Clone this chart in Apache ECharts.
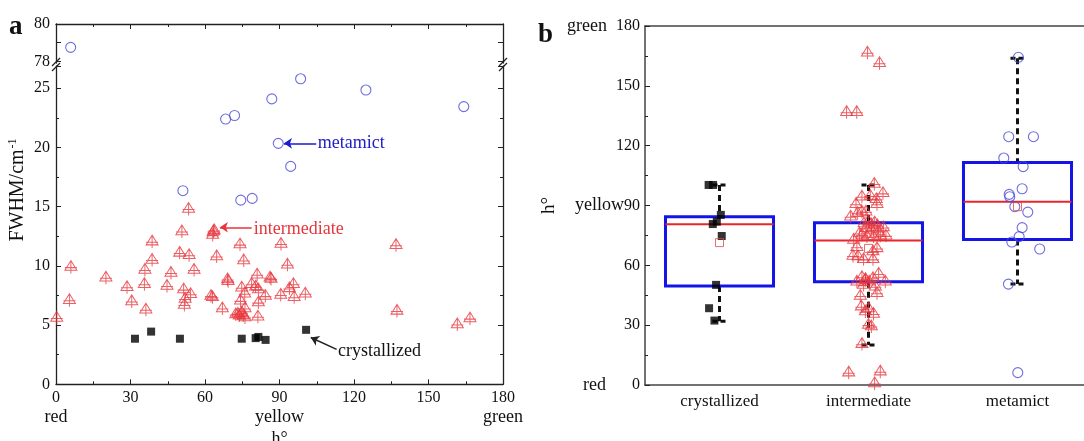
<!DOCTYPE html>
<html>
<head>
<meta charset="utf-8">
<script src="https://cdn.jsdelivr.net/npm/echarts@6/dist/echarts.min.js"></script>
<style>
  html, body { margin: 0; padding: 0; background: #fff; }
  #chart { width: 1084px; height: 441px; }
</style>
</head>
<body>
<div id="chart"></div>
<script>
// ---- panel a: FWHM vs hue angle ----
const crystHue = [31.8, 38.3, 49.9, 74.8, 80.4, 81.5, 84.4, 100.7]
const crystFwhm = [3.85, 4.45, 3.85, 3.85, 3.9, 4.0, 3.75, 4.6]

const interHue = [0.3, 6.0, 5.4, 20.1, 28.6, 30.5, 35.8, 35.6, 36.2, 38.7, 38.7, 44.7, 46.3, 49.8, 50.7,
  53.4, 53.6, 55.6, 51.4, 52.0, 51.7, 54.2, 62.4, 63.0, 63.1, 63.4, 63.7, 64.7, 67.0, 69.1, 69.3,
  74.1, 75.6, 74.8, 74.3, 76.0, 76.1, 72.4, 73.2, 73.8, 74.8, 75.4, 76.1, 78.8, 80.4, 81.0, 81.5,
  81.5, 81.3, 84.3, 86.2, 86.6, 90.6, 90.5, 93.2, 94.0, 95.6, 95.9, 100.4, 136.9, 137.3, 161.6, 166.7]
const interFwhm = [5.6, 9.9, 7.1, 9.0, 8.2, 7.0, 9.65, 8.45, 6.3, 12.05, 10.5, 8.3, 9.4, 11.1, 12.9,
  14.8, 10.9, 9.65, 8.0, 7.2, 6.7, 7.6, 7.45, 7.35, 12.6, 12.9, 13.0, 10.8, 6.4, 8.85, 8.7,
  11.8, 10.45, 8.15, 7.05, 7.65, 6.4, 5.9, 5.95, 5.8, 6.05, 5.8, 5.65, 8.45, 8.25, 9.25, 8.0,
  6.9, 5.7, 7.45, 9.0, 8.9, 11.85, 7.55, 10.1, 8.1, 8.45, 7.35, 7.65, 11.75, 6.2, 5.05, 5.55]

const metaHue = [5.9, 51.1, 68.3, 71.9, 74.4, 79.0, 86.9, 89.5, 94.5, 98.5, 124.8, 164.2]
const metaFwhm = [78.75, 16.35, 22.4, 22.7, 15.55, 15.7, 24.1, 20.35, 18.4, 25.8, 24.85, 23.45]

const hueTicks = [0, 90, 180]
const hueWords = ['red', 'yellow', 'green']

// ---- panel b: hue angle per group ----
const groups = ['crystallized', 'intermediate', 'metamict']
const boxLow = [32.0, 20.1, 50.6]
const boxQ1 = [49.6, 51.8, 73.0]
const boxMed = [80.6, 72.4, 91.9]
const boxQ3 = [84.4, 81.4, 111.5]
const boxHigh = [100.3, 100.3, 163.8]
const boxMean = [71.4, 68.5, 89.4]

const crystH = [100.3, 100.3, 85.3, 81.9, 80.7, 74.7, 50.2, 38.5, 32.3]
const crystOff = [-0.073, -0.043, 0.009, -0.018, -0.045, 0.015, -0.023, -0.07, -0.034]

const interH = [100.8, 96.1, 94.4, 94.8, 93.1, 90.6, 90.6, 86.9, 86.1, 84.4, 86.9, 81.9, 81.4, 79.0,
  78.6, 77.8, 77.0, 74.8, 75.2, 74.4, 74.4, 72.7, 74.8, 69.1, 68.5, 66.9, 64.7, 64.4, 63.0, 63.0,
  55.7, 54.0, 52.7, 51.8, 51.8, 51.8, 50.1, 49.3, 46.0, 44.6, 39.3, 38.4, 36.8, 35.6, 30.1, 29.3,
  20.5, 6.2, 6.7, 0.8, 166.6, 161.3, 136.8, 136.8, 80.5, 81.0, 80.0, 53.0, 53.5, 76.0]
const interOff = [0.039, 0.097, -0.044, 0.012, 0.052, -0.084, 0.057, -0.044, -0.073, -0.12, -0.017, 0, 0.041, 0.1,
  -0.017, 0.019, 0.068, 0.117, -0.044, -0.01, 0.034, -0.1, 0.079, -0.078, 0.057, 0.03, -0.104, -0.07, -0.033, 0.03,
  0.068, -0.044, -0.021, -0.078, 0.005, 0.113, -0.033, 0.046, 0.057, -0.055, -0.048, 0, -0.021, 0.034, 0, 0.019,
  -0.044, -0.133, 0.079, 0.041, -0.007, 0.074, -0.147, -0.079, 0.02, -0.03, 0.06, -0.02, 0.03, -0.06]

const metaH = [164.3, 124.5, 124.5, 113.8, 109.5, 98.4, 95.6, 94.4, 89.4, 86.7, 78.9, 74.4, 71.7, 68.2, 50.6, 6.2]
const metaOff = [0.006, -0.059, 0.107, -0.092, 0.038, 0.031, -0.056, -0.052, -0.018, 0.069, 0.031, 0.011, -0.038, 0.149, -0.061, 0.002]

const FONT = 'Liberation Serif'
const RED = '#e6363c'
const BLUE = '#4a4ad8'
const FRAME = '#222'
const triangle = 'path://M6,0L12,9L0,9ZM6,0L6,12M0,6.5L12,6.5'

const pairs = (xs, ys) => xs.map((x, i) => [x, ys[i]])
const jitter = (g, offs, ys) => offs.map((o, i) => [g + 1 + o, ys[i]])

const chart = echarts.init(document.getElementById('chart'))

// layout of the two panels
const A = { left: 56, width: 447, upTop: 24, upH: 39, lowTop: 66, lowH: 318.3 }
const B = { left: 645, top: 26, width: 447, height: 359 }

function frameAxis (extra) {
  return Object.assign({
    axisLine: { show: true, onZero: false, lineStyle: { color: FRAME, width: 1.3 } },
    axisTick: { show: true, inside: true, length: 5, lineStyle: { color: FRAME } },
    minorTick: { show: true, splitNumber: 2, length: 3, lineStyle: { color: FRAME } },
    splitLine: { show: false },
    axisLabel: { show: false }
  }, extra)
}

function renderBox (params, api) {
  const x = api.value(0)
  const lo = api.coord([x, api.value(1)])
  const q1 = api.coord([x, api.value(2)])
  const md = api.coord([x, api.value(3)])
  const q3 = api.coord([x, api.value(4)])
  const hi = api.coord([x, api.value(5)])
  const half = api.size([0.725, 0])[0] / 2
  const dash = { stroke: '#111', lineWidth: 3, lineDash: [6, 4] }
  return {
    type: 'group',
    children: [
      { type: 'line', shape: { x1: hi[0], y1: hi[1], x2: q3[0], y2: q3[1] }, style: dash },
      { type: 'line', shape: { x1: q1[0], y1: q1[1], x2: lo[0], y2: lo[1] }, style: dash },
      { type: 'line', shape: { x1: hi[0] - 7, y1: hi[1], x2: hi[0] + 7, y2: hi[1] }, style: { stroke: '#111', lineWidth: 3, lineDash: [5, 3] } },
      { type: 'line', shape: { x1: lo[0] - 7, y1: lo[1], x2: lo[0] + 7, y2: lo[1] }, style: { stroke: '#111', lineWidth: 3, lineDash: [5, 3] } },
      { type: 'rect', shape: { x: q3[0] - half, y: q3[1], width: half * 2, height: q1[1] - q3[1] }, style: { fill: 'transparent', stroke: '#1414e6', lineWidth: 3 } },
      { type: 'line', shape: { x1: md[0] - half, y1: md[1], x2: md[0] + half, y2: md[1] }, style: { stroke: '#e8262c', lineWidth: 2 } }
    ]
  }
}

function noteLine (from, to, color) {
  return {
    silent: true,
    symbol: ['none', 'arrow'],
    symbolSize: 8,
    label: { show: false },
    lineStyle: { color: color, width: 1.5, type: 'solid' },
    data: [[{ coord: from }, { coord: to }]]
  }
}

function noteText (at, text, color) {
  return {
    silent: true,
    data: [{
      coord: at,
      symbol: 'circle',
      symbolSize: 0,
      label: { show: true, position: 'right', distance: 0, formatter: text, color: color, fontFamily: FONT, fontSize: 18 }
    }]
  }
}

const breakMarks = []
;[A.left, A.left + A.width].forEach(x => {
  breakMarks.push({ type: 'line', shape: { x1: x - 4, y1: 66, x2: x + 4, y2: 58 }, style: { stroke: FRAME, lineWidth: 1.3 } })
  breakMarks.push({ type: 'line', shape: { x1: x - 4, y1: 71, x2: x + 4, y2: 63 }, style: { stroke: FRAME, lineWidth: 1.3 } })
})

chart.setOption({
  animation: false,
  backgroundColor: '#fff',
  textStyle: { fontFamily: FONT },
  grid: [
    { left: A.left, top: A.lowTop, width: A.width, height: A.lowH, outerBoundsMode: 'none' },
    { left: A.left, top: A.upTop, width: A.width, height: A.upH, outerBoundsMode: 'none' },
    { left: B.left, top: B.top, width: B.width, height: B.height, outerBoundsMode: 'none' }
  ],
  xAxis: [
    frameAxis({
      gridIndex: 0, type: 'value', position: 'bottom', min: 0, max: 180, interval: 30,
      name: 'h°', nameLocation: 'middle', nameGap: 42,
      nameTextStyle: { fontFamily: FONT, fontSize: 18, color: '#111' },
      axisLabel: {
        show: true, margin: 4, color: '#111',
        formatter: v => {
          const k = hueTicks.indexOf(v)
          return k >= 0 ? '{n|' + v + '}\n{w|' + hueWords[k] + '}' : '{n|' + v + '}'
        },
        rich: {
          n: { fontFamily: FONT, fontSize: 16, lineHeight: 18, color: '#111' },
          w: { fontFamily: FONT, fontSize: 18, lineHeight: 21, color: '#111' }
        }
      }
    }),
    frameAxis({ gridIndex: 1, type: 'value', position: 'top', min: 0, max: 180, interval: 30 }),
    {
      gridIndex: 2, type: 'value', position: 'bottom', min: 0.5, max: 3.5,
      axisLine: { show: true, onZero: false, lineStyle: { color: '#444', width: 1.5 } },
      axisTick: { show: false },
      splitLine: { show: false },
      axisLabel: {
        show: true, customValues: [1, 2, 3], margin: 8,
        formatter: v => groups[Math.round(v) - 1] || '',
        fontFamily: FONT, fontSize: 17, color: '#111'
      }
    },
    {
      gridIndex: 2, type: 'value', position: 'top', min: 0.5, max: 3.5,
      axisLine: { show: true, onZero: false, lineStyle: { color: '#444', width: 1.5 } },
      axisTick: { show: false }, splitLine: { show: false }, axisLabel: { show: false }
    }
  ],
  yAxis: [
    frameAxis({
      gridIndex: 0, type: 'value', position: 'left', min: 0, max: 26.88, interval: 5,
      axisLabel: { show: true, showMaxLabel: false, margin: 6, fontFamily: FONT, fontSize: 16, color: '#111' }
    }),
    frameAxis({ gridIndex: 0, type: 'value', position: 'right', min: 0, max: 26.88, interval: 5 }),
    frameAxis({
      gridIndex: 1, type: 'value', position: 'left', min: 77.914, max: 80,
      minorTick: { show: false },
      axisTick: { show: true, inside: true, length: 5, customValues: [78, 79, 80], lineStyle: { color: FRAME } },
      axisLabel: { show: true, customValues: [78, 80], margin: 6, fontFamily: FONT, fontSize: 16, color: '#111' }
    }),
    frameAxis({
      gridIndex: 1, type: 'value', position: 'right', min: 77.914, max: 80,
      minorTick: { show: false },
      axisTick: { show: true, inside: true, length: 5, customValues: [78, 79, 80], lineStyle: { color: FRAME } }
    }),
    frameAxis({
      gridIndex: 2, type: 'value', position: 'left', min: 0, max: 180, interval: 30,
      axisLine: { show: true, onZero: false, lineStyle: { color: '#444', width: 1.5 } },
      name: 'h°', nameLocation: 'middle', nameGap: 86, nameRotate: 90,
      nameTextStyle: { fontFamily: FONT, fontSize: 19, color: '#111' },
      axisLabel: {
        show: true, margin: 5, color: '#111', fontFamily: FONT, fontSize: 16,
        formatter: v => {
          if (v === 180) return '{w|green}{g|180}'
          if (v === 90) return '{w|yellow}{n|90}'
          if (v === 0) return '{w|red}{r|0}'
          return '{n|' + v + '}'
        },
        rich: {
          w: { fontFamily: FONT, fontSize: 18, color: '#111' },
          n: { fontFamily: FONT, fontSize: 16, color: '#111' },
          g: { fontFamily: FONT, fontSize: 16, color: '#111', padding: [0, 0, 0, 9] },
          r: { fontFamily: FONT, fontSize: 16, color: '#111', padding: [0, 0, 0, 26] }
        }
      }
    })
  ],
  series: [
    {
      name: 'intermediate', type: 'scatter', xAxisIndex: 0, yAxisIndex: 0,
      data: pairs(interHue, interFwhm),
      symbol: triangle, symbolSize: [12, 13],
      itemStyle: { color: 'transparent', borderColor: RED, borderWidth: 1 },
      markLine: noteLine([78.8, 13.26], [66.0, 13.26], RED),
      markPoint: noteText([79.6, 13.1], 'intermediate', RED)
    },
    {
      name: 'crystallized', type: 'scatter', xAxisIndex: 0, yAxisIndex: 0,
      data: pairs(crystHue, crystFwhm),
      symbol: 'rect', symbolSize: 8,
      itemStyle: { color: '#000' },
      markLine: noteLine([113, 2.95], [102.6, 3.95], '#222'),
      markPoint: noteText([113.6, 2.75], 'crystallized', '#111')
    },
    {
      name: 'metamict', type: 'scatter', xAxisIndex: 0, yAxisIndex: 0,
      data: pairs(metaHue, metaFwhm).filter(p => p[1] < 30),
      symbol: 'circle', symbolSize: 10,
      itemStyle: { color: 'transparent', borderColor: BLUE, borderWidth: 1.1 },
      markLine: noteLine([104.8, 20.35], [91.8, 20.35], '#1a1ad0'),
      markPoint: noteText([105.4, 20.35], 'metamict', '#2020c8')
    },
    {
      name: 'metamict-high', type: 'scatter', xAxisIndex: 1, yAxisIndex: 2,
      data: pairs(metaHue, metaFwhm).filter(p => p[1] > 70),
      symbol: 'circle', symbolSize: 10,
      itemStyle: { color: 'transparent', borderColor: BLUE, borderWidth: 1.1 }
    },
    {
      name: 'box', type: 'custom', xAxisIndex: 2, yAxisIndex: 4,
      renderItem: renderBox,
      encode: { x: 0, y: [1, 2, 3, 4, 5] },
      data: groups.map((g, i) => [i + 1, boxLow[i], boxQ1[i], boxMed[i], boxQ3[i], boxHigh[i]])
    },
    {
      name: 'crystallized-h', type: 'scatter', xAxisIndex: 2, yAxisIndex: 4,
      data: jitter(0, crystOff, crystH),
      symbol: 'rect', symbolSize: 8,
      itemStyle: { color: '#000' }
    },
    {
      name: 'intermediate-h', type: 'scatter', xAxisIndex: 2, yAxisIndex: 4,
      data: jitter(1, interOff, interH),
      symbol: triangle, symbolSize: [12, 13],
      itemStyle: { color: 'transparent', borderColor: RED, borderWidth: 1 }
    },
    {
      name: 'metamict-h', type: 'scatter', xAxisIndex: 2, yAxisIndex: 4,
      data: jitter(2, metaOff, metaH),
      symbol: 'circle', symbolSize: 10,
      itemStyle: { color: 'transparent', borderColor: BLUE, borderWidth: 1.1 }
    },
    {
      name: 'mean', type: 'scatter', xAxisIndex: 2, yAxisIndex: 4,
      data: boxMean.map((m, i) => [i + 1, m]),
      symbol: 'rect', symbolSize: 8,
      itemStyle: { color: 'transparent', borderColor: '#e04a4a', borderWidth: 1 }
    }
  ],
  graphic: [
    { type: 'text', x: 9, y: 14, style: { text: 'a', fontFamily: FONT, fontSize: 27, fontWeight: 'bold', fill: '#111' } },
    { type: 'text', x: 538, y: 22, style: { text: 'b', fontFamily: FONT, fontSize: 27, fontWeight: 'bold', fill: '#111' } },
    {
      type: 'text', x: 18, y: 190, rotation: Math.PI / 2,
      style: {
        text: 'FWHM/cm{s|-1}', align: 'center', verticalAlign: 'middle',
        fontFamily: FONT, fontSize: 20, fill: '#111',
        rich: { s: { fontFamily: FONT, fontSize: 12, fill: '#111', padding: [0, 0, 10, 1] } }
      }
    }
  ].concat(breakMarks)
})
</script>
</body>
</html>
